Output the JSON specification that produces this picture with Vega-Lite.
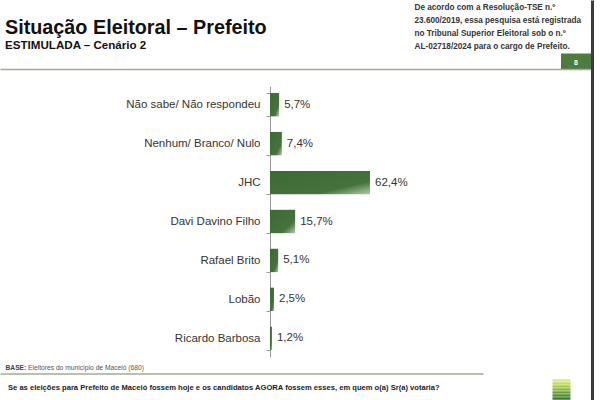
{
  "$schema": "https://vega.github.io/schema/vega-lite/v6.json",
  "width": 600,
  "height": 400,
  "autosize": "none",
  "padding": 0,
  "background": "white",
  "config": {
    "view": {"stroke": null},
    "font": "Liberation Sans",
    "locale": {"number": {"decimal": ",", "thousands": ".", "grouping": [3], "currency": ["R$", ""]}}
  },
  "title": {
    "text": "Situação Eleitoral – Prefeito",
    "subtitle": "ESTIMULADA – Cenário 2",
    "anchor": "start",
    "frame": "group",
    "offset": -58,
    "dx": 5,
    "font": "Liberation Sans",
    "fontSize": 19.8,
    "fontWeight": "bold",
    "color": "#111111",
    "subtitleFont": "Liberation Sans",
    "subtitleFontSize": 11.6,
    "subtitleFontWeight": "bold",
    "subtitleColor": "#111111",
    "subtitlePadding": 3
  },
  "data": {
    "values": [
      {"candidato": "Não sabe/ Não respondeu", "pct": 0.057},
      {"candidato": "Nenhum/ Branco/ Nulo", "pct": 0.074},
      {"candidato": "JHC", "pct": 0.624},
      {"candidato": "Davi Davino Filho", "pct": 0.157},
      {"candidato": "Rafael Brito", "pct": 0.051},
      {"candidato": "Lobão", "pct": 0.025},
      {"candidato": "Ricardo Barbosa", "pct": 0.012}
    ]
  },
  "layer": [
    {
      "mark": {
        "type": "bar",
        "fill": {
          "gradient": "linear", "x1": 0, "y1": 0, "x2": 1, "y2": 1,
          "stops": [
            {"offset": 0, "color": "#3d6935"},
            {"offset": 0.72, "color": "#45723d"},
            {"offset": 1, "color": "#b4cbaa"}
          ]
        }
      },
      "encoding": {
        "y": {
          "field": "candidato", "type": "nominal", "sort": null,
          "scale": {"range": [86, 357], "paddingInner": 0.4, "paddingOuter": 0.18},
          "axis": {
            "orient": "left", "offset": -270, "title": null,
            "labelFontSize": 11.5, "labelColor": "#333333", "labelPadding": 6,
            "tickSize": 4, "tickColor": "#9a9a9a", "domainColor": "#9a9a9a",
            "tickBand": "extent", "grid": false
          }
        },
        "x": {
          "field": "pct", "type": "quantitative",
          "scale": {"domain": [0, 1.872], "range": [270, 570]},
          "axis": {
            "orient": "bottom", "domain": false, "ticks": false, "labels": false, "grid": false,
            "title": "BASE:", "titleX": 5, "titleY": -31, "titleAlign": "left", "titleBaseline": "alphabetic",
            "titleFontSize": 6.7, "titleFontWeight": "bold", "titleColor": "#444444"
          }
        }
      }
    },
    {
      "mark": {"type": "text", "align": "left", "dx": 5, "fontSize": 11.5, "color": "#333333"},
      "encoding": {
        "y": {
          "field": "candidato", "type": "nominal", "sort": null,
          "scale": {"range": [86, 357], "paddingInner": 0.4, "paddingOuter": 0.18},
          "axis": null
        },
        "x": {
          "field": "pct", "type": "quantitative",
          "scale": {"domain": [0, 1.872], "range": [270, 570]},
          "axis": {
            "orient": "bottom", "domain": false, "ticks": false, "labels": false, "grid": false,
            "title": "Eleitores do município de Maceió (680)", "titleX": 27.5, "titleY": -31, "titleAlign": "left", "titleBaseline": "alphabetic",
            "titleFontSize": 6.7, "titleFontWeight": "normal", "titleColor": "#555555"
          }
        },
        "text": {"field": "pct", "type": "quantitative", "format": ".1%"}
      }
    },
    {
      "mark": {"type": "point", "opacity": 0},
      "encoding": {
        "x": {
          "datum": 0, "type": "quantitative",
          "scale": {"domain": [0, 591], "range": [0, 591]},
          "axis": {
            "orient": "top", "offset": -69, "domainColor": "#a3ab93", "domainWidth": 1.5, "grid": false,
            "values": [575.5], "ticks": true, "tickSize": 16, "tickWidth": 31, "tickColor": "#4e7b40",
            "labels": true, "labelExpr": "'8'", "labelColor": "#ffffff", "labelFontSize": 7, "labelFontWeight": "bold",
            "labelPadding": -12, "labelFlush": false, "labelOverlap": false, "labelBound": false,
            "title": ["De acordo com a Resolução-TSE n.º", "23.600/2019, essa pesquisa está registrada", "no Tribunal Superior Eleitoral sob o n.º", "AL-02718/2024 para o cargo de Prefeito."],
            "titleX": 414, "titleY": -60, "titleAlign": "left", "titleBaseline": "alphabetic", "titleAngle": 0,
            "titleFontSize": 8.2, "titleFontWeight": "bold", "titleColor": "#333333", "titleLineHeight": 13.2
          }
        }
      }
    },
    {
      "mark": {"type": "point", "opacity": 0},
      "encoding": {
        "x": {
          "datum": 0, "type": "quantitative",
          "scale": {"domain": [0, 483], "range": [0, 483]},
          "axis": {
            "orient": "bottom", "offset": -26.5, "domainColor": "#a3ab93", "domainWidth": 1.5,
            "ticks": false, "labels": false, "grid": false,
            "title": "Se as eleições para Prefeito de Maceió fossem hoje e os candidatos AGORA fossem esses, em quem o(a) Sr(a) votaria?",
            "titleX": 7.5, "titleY": 15.5, "titleAlign": "left", "titleBaseline": "alphabetic",
            "titleFontSize": 7.6, "titleFontWeight": "bold", "titleColor": "#222222"
          }
        },
        "y": {
          "datum": 0, "type": "quantitative",
          "scale": {"domain": [0, 400], "range": [0, 400]},
          "axis": {
            "orient": "left", "offset": -570, "domain": false, "labels": false, "grid": false, "title": null,
            "values": [379.5, 382.5, 385.5, 388.5, 391.5, 394.5, 397.5],
            "ticks": true, "tickSize": 18, "tickWidth": 2.5,
            "tickColor": {
              "condition": [
                {"test": "datum.value < 381", "value": "#d6e88a"},
                {"test": "datum.value < 384", "value": "#c2dc64"},
                {"test": "datum.value < 387", "value": "#a6cc48"},
                {"test": "datum.value < 390", "value": "#88b83c"},
                {"test": "datum.value < 393", "value": "#6aa036"},
                {"test": "datum.value < 396", "value": "#528a32"}
              ],
              "value": "#3f742e"
            }
          }
        }
      }
    },
    {
      "mark": {"type": "point", "opacity": 0},
      "encoding": {
        "y": {
          "datum": 0, "type": "quantitative",
          "scale": {"domain": [0, 400], "range": [0, 400]},
          "axis": {
            "orient": "right", "offset": -8, "domainColor": "#3a3a3a", "domainWidth": 3,
            "ticks": false, "labels": false, "grid": false, "title": null
          }
        }
      }
    }
  ],
  "resolve": {
    "scale": {"x": "independent", "y": "independent"},
    "axis": {"x": "independent", "y": "independent"}
  }
}
